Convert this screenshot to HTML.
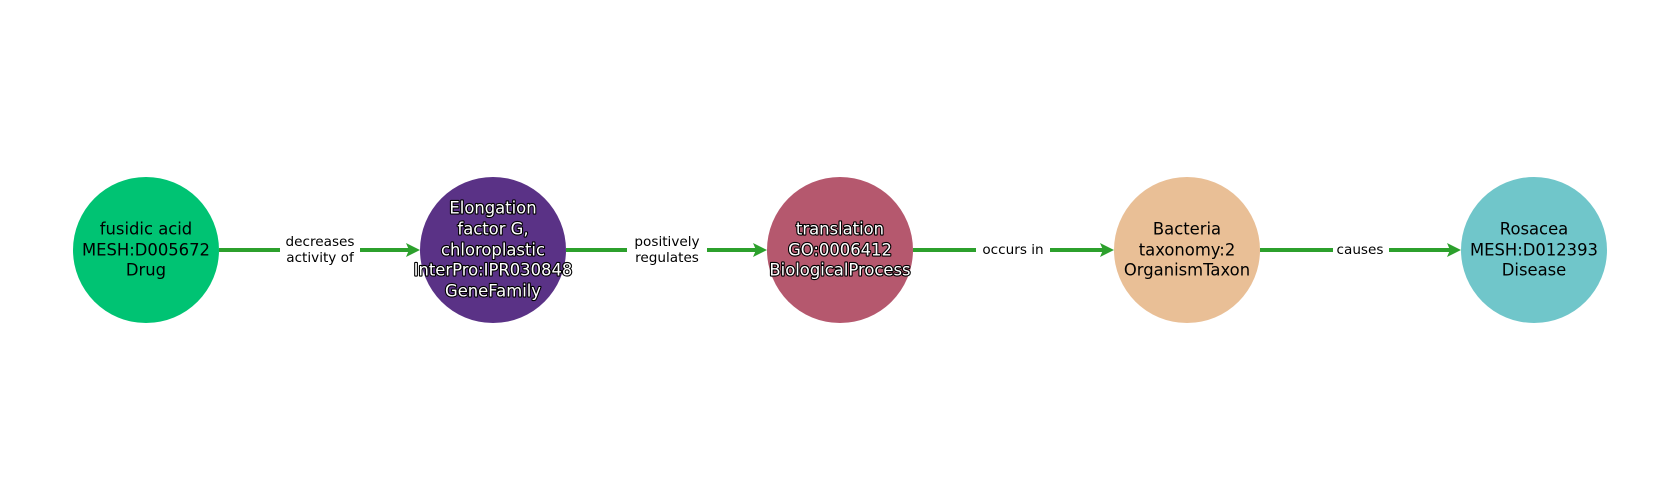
<!DOCTYPE html>
<html><head><meta charset="utf-8"><style>
html,body{margin:0;padding:0;background:#fff;}
svg{display:block;}
text{font-family:"DejaVu Sans","Liberation Sans",sans-serif;}
.n{font-size:16.4px;text-anchor:middle;dominant-baseline:central;fill:#000;}
.w{fill:#fff;stroke:#000;stroke-width:2.2px;paint-order:stroke;stroke-linejoin:round;}
.e{font-size:13.6px;text-anchor:middle;dominant-baseline:central;fill:#000;}
</style></head><body>
<svg width="1680" height="500" viewBox="0 0 1680 500">
<g stroke="#2ca02c" stroke-width="4">
<line x1="219" y1="250" x2="410" y2="250"/>
<line x1="566" y1="250" x2="757" y2="250"/>
<line x1="913" y1="250" x2="1104" y2="250"/>
<line x1="1260" y1="250" x2="1451" y2="250"/>
</g>
<g fill="#2ca02c">
<polygon points="420,250 406,243 409,250 406,257"/>
<polygon points="767,250 753,243 756,250 753,257"/>
<polygon points="1114,250 1100,243 1103,250 1100,257"/>
<polygon points="1461,250 1447,243 1450,250 1447,257"/>
</g>
<g fill="#fff">
<rect x="280" y="232" width="80" height="36"/>
<rect x="627" y="232" width="80" height="36"/>
<rect x="976" y="240" width="74" height="20"/>
<rect x="1333" y="240" width="56" height="20"/>
</g>
<text class="e" x="320" y="242">decreases</text>
<text class="e" x="320" y="258">activity of</text>
<text class="e" x="667" y="242">positively</text>
<text class="e" x="667" y="258">regulates</text>
<text class="e" x="1013" y="250">occurs in</text>
<text class="e" x="1360" y="250">causes</text>
<circle cx="146" cy="250" r="73" fill="#00c373"/>
<circle cx="493" cy="250" r="73" fill="#5a3286"/>
<circle cx="840" cy="250" r="73" fill="#b5586e"/>
<circle cx="1187" cy="250" r="73" fill="#e9bf96"/>
<circle cx="1534" cy="250" r="73" fill="#70c6ca"/>
<text class="n" x="146" y="229">fusidic acid</text>
<text class="n" x="146" y="250">MESH:D005672</text>
<text class="n" x="146" y="270">Drug</text>
<text class="n w" x="493" y="208">Elongation</text>
<text class="n w" x="493" y="229">factor G,</text>
<text class="n w" x="493" y="250">chloroplastic</text>
<text class="n w" x="493" y="270">InterPro:IPR030848</text>
<text class="n w" x="493" y="291">GeneFamily</text>
<text class="n w" x="840" y="229">translation</text>
<text class="n w" x="840" y="250">GO:0006412</text>
<text class="n w" x="840" y="270">BiologicalProcess</text>
<text class="n" x="1187" y="229">Bacteria</text>
<text class="n" x="1187" y="250">taxonomy:2</text>
<text class="n" x="1187" y="270">OrganismTaxon</text>
<text class="n" x="1534" y="229">Rosacea</text>
<text class="n" x="1534" y="250">MESH:D012393</text>
<text class="n" x="1534" y="270">Disease</text>
</svg>
</body></html>
